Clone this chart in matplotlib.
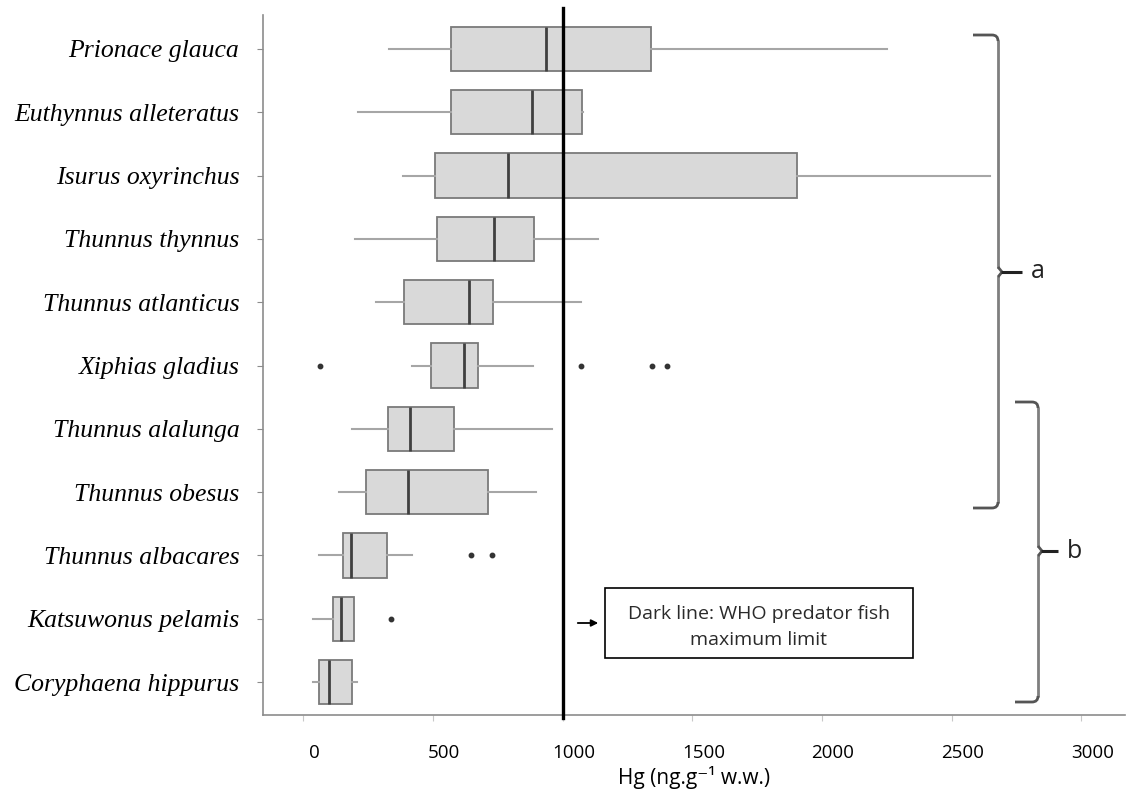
import matplotlib
matplotlib.use("Agg")
import matplotlib.pyplot as plt
import matplotlib.transforms as mtransforms
from matplotlib.patches import Rectangle
from matplotlib.path import Path
from matplotlib.patches import PathPatch

# ---------------- data ----------------
species = ["Prionace glauca", "Euthynnus alleteratus", "Isurus oxyrinchus",
           "Thunnus thynnus", "Thunnus atlanticus", "Xiphias gladius",
           "Thunnus alalunga", "Thunnus obesus", "Thunnus albacares",
           "Katsuwonus pelamis", "Coryphaena hippurus"]
whislo = [330, 210, 383, 199, 279, 418, 190, 138, 61, 39, 39]
q1 = [570, 568, 509, 516, 390, 493, 328, 243, 154, 113, 61]
med = [936, 883, 788, 737, 640, 620, 410, 405, 183, 147, 99]
q3 = [1340, 1074, 1903, 891, 733, 675, 581, 711, 323, 196, 187]
whishi = [2250, 1080, 2648, 1138, 1070, 885, 958, 897, 418, 196, 206]
fliers = [[], [], [], [], [], [66, 1070, 1344, 1404], [], [], [648, 727], [339], []]
who_limit = 1000
xticks = [0, 500, 1000, 1500, 2000, 2500, 3000]

W, H = 1135, 798
fig = plt.figure(figsize=(W / 100, H / 100), dpi=100)
ax = fig.add_axes([263 / W, 1 - 715 / H, (1125 - 263) / W, (715 - 15) / H])

stats = []
for i in range(len(species)):
    stats.append(dict(whislo=whislo[i], q1=q1[i], med=med[i], q3=q3[i],
                      whishi=whishi[i], fliers=fliers[i], label=species[i]))
positions = list(range(1, len(species) + 1))
ax.bxp(stats, positions=positions, widths=0.70, orientation="horizontal",
       showcaps=False, patch_artist=True,
       boxprops=dict(facecolor="#d9d9d9", edgecolor="#7a7a7a", linewidth=1.3),
       medianprops=dict(color="#404040", linewidth=2.0),
       whiskerprops=dict(color="#a6a6a6", linewidth=1.5),
       flierprops=dict(marker="o", markersize=3.2, markerfacecolor="#333333",
                       markeredgecolor="#333333"))

ax.set_ylim(11.52, 0.463)
ax.set_xlim(-155, 3168)
ax.axvline(who_limit, ymin=-0.004, ymax=1.01, color="black", linewidth=2.4,
           clip_on=False, zorder=5)

for s in ["top", "right"]:
    ax.spines[s].set_visible(False)
for s in ["left", "bottom"]:
    ax.spines[s].set_color("#8c8c8c")
    ax.spines[s].set_linewidth(1.2)

ax.set_yticks(positions)
ax.set_yticklabels(species, family="Liberation Serif", style="italic", fontsize=18.5)
ax.tick_params(axis="y", length=4, color="#8c8c8c", pad=13)
ax.set_xticks(xticks)
ax.set_xticklabels([str(t) for t in xticks], family="Open Sans", fontsize=13.5)
ax.tick_params(axis="x", length=4, color="#c8c8c8", pad=17)
offset = mtransforms.ScaledTranslation(11 / 100, 0, fig.dpi_scale_trans)
for lab in ax.get_xticklabels():
    lab.set_transform(lab.get_transform() + offset)

ax.set_xlabel("Hg (ng.g\u207b\u00b9 w.w.)", family=["Open Sans", "DejaVu Sans"],
              fontsize=15, labelpad=3)

# pixel transform (image pixel coordinates, origin top-left)
pix = mtransforms.Affine2D().scale(1 / W, -1 / H).translate(0, 1) + fig.transFigure

# annotation box
fig.patches.append(Rectangle((605, 588), 308, 70, transform=pix, fill=False,
                             edgecolor="black", linewidth=1.2))
fig.text(759, 627, "Dark line: WHO predator fish\nmaximum limit", transform=pix,
         ha="center", va="center", family="Open Sans", fontsize=14,
         linespacing=1.6, color="#2a2a2a")
fig.patches.append(matplotlib.patches.FancyArrowPatch(
    (575, 623), (601, 623), transform=pix, arrowstyle="-|>", mutation_scale=10,
    color="black", linewidth=1.3))


def brace(x, top, bottom, mid, hook_x, tick_x, label, label_x):
    # vertical
    verts = [(x, top + 5), (x, mid - 4)]
    fig.patches.append(PathPatch(Path(verts), transform=pix, fill=False,
                                 edgecolor="#7f7f7f", linewidth=2.0))
    verts = [(x, mid + 4), (x, bottom - 5)]
    fig.patches.append(PathPatch(Path(verts), transform=pix, fill=False,
                                 edgecolor="#7f7f7f", linewidth=2.0))
    # hooks
    for y0, sgn in [(top, 1), (bottom, -1)]:
        v = [(hook_x, y0), (x - 6, y0), (x, y0), (x, y0 + sgn * 6)]
        c = [Path.MOVETO, Path.LINETO, Path.CURVE3, Path.CURVE3]
        fig.patches.append(PathPatch(Path(v, c), transform=pix, fill=False,
                                     edgecolor="#555555", linewidth=2.0))
    # middle notch + tick
    v = [(x, mid - 5), (x + 4, mid), (x, mid + 5)]
    fig.patches.append(PathPatch(Path(v), transform=pix, fill=False,
                                 edgecolor="#555555", linewidth=2.0))
    fig.patches.append(PathPatch(Path([(x + 3, mid), (tick_x, mid)]), transform=pix,
                                 fill=False, edgecolor="#222222", linewidth=2.2))
    fig.text(label_x, mid, label, transform=pix, ha="left", va="center",
             family="Open Sans", fontsize=18, color="#222222")


brace(998, 35, 508, 272, 973, 1022, "a", 1031)
brace(1038, 402, 702, 551, 1015, 1058, "b", 1067)

fig.savefig("out.png", dpi=100)
